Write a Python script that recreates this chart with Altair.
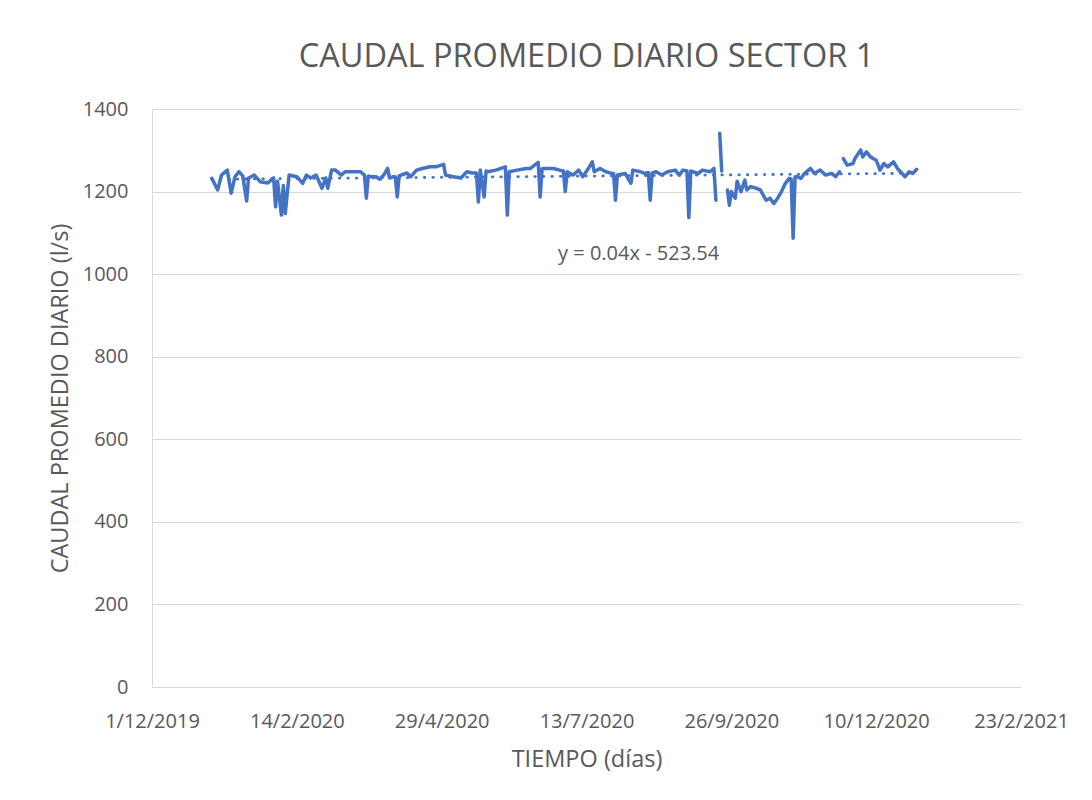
import altair as alt
import pandas as pd

# Día del año 2020 (1 = 1/1/2020) y caudal promedio diario (l/s); None = sin dato
dia = [1, 4, 6, 9, 11, 13, 15, 17, 19, 20, 23, 26, 30, 33, 34, 35, 37, 38, 39, 41,
       45, 48, 50, 52, 55, 58, 60, 61, 63, 65, 68, 70, 74, 78, 80, 81, 82, 83, 86, 88,
       90, 92, 93, 95, 96, 97, 98, 99, 102, 104, 107, 110, 114, 117, 121, 122, 126, 130, 133, 136,
       138, 139, 140, 142, 143, 144, 148, 153, 154, 155, 159, 164, 166, 170, 171, 172, 174, 178, 181, 183,
       184, 185, 188, 191, 193, 196, 198, 199, 202, 205, 208, 209, 210, 211, 215, 218, 219, 223, 225, 227,
       228, 229, 231, 234, 237, 241, 243, 245, 247, 248, 249, 250, 253, 255, 259, 261, 262, 263, 264, 265,
       266, 268, 269, 270, 272, 273, 275, 277, 278, 280, 283, 285, 288, 290, 292, 294, 296, 298, 300, 301,
       302, 303, 304, 306, 308, 311, 313, 316, 319, 322, 324, 326, 327, 328, 330, 333, 334, 337, 338, 340,
       342, 345, 347, 349, 351, 354, 356, 360, 362, 364, 366]
caudal = [1232, 1204, 1240, 1252, 1196, 1236, 1248, 1238, 1177, 1233, 1240, 1224, 1221, 1233, 1163, 1225, 1143, 1215, 1147, 1240,
          1236, 1220, 1240, 1233, 1240, 1208, 1233, 1208, 1252, 1252, 1240, 1248, 1248, 1248, 1240, 1184, 1238, 1236, 1236, 1230,
          1240, 1256, 1233, 1236, 1236, 1187, 1238, 1240, 1245, 1236, 1252, 1256, 1260, 1260, 1266, 1240, 1236, 1233, 1248, 1245,
          1245, 1175, 1252, 1187, 1250, 1248, 1252, 1260, 1143, 1248, 1252, 1256, 1256, 1271, 1187, 1255, 1256, 1256, 1252, 1250,
          1200, 1248, 1240, 1252, 1236, 1256, 1272, 1248, 1256, 1248, 1244, 1244, 1179, 1240, 1244, 1220, 1252, 1248, 1244, 1246,
          1179, 1245, 1248, 1240, 1248, 1252, 1240, 1252, 1250, 1137, 1250, 1248, 1244, 1252, 1248, 1256, 1179, None, 1341, 1250,
          None, 1204, 1167, 1200, 1184, 1225, 1200, 1228, 1204, 1212, 1208, 1204, 1179, 1184, 1171, 1184, 1200, 1220, 1232, 1230,
          1087, 1236, 1236, 1232, 1244, 1256, 1244, 1252, 1240, 1244, 1236, 1248, None, 1280, 1264, 1268, 1280, 1301, 1284, 1296,
          1284, 1276, 1252, 1268, 1260, 1272, 1256, 1236, 1248, 1244, 1254]

# Línea de tendencia (Excel): y = 0.04x - 523.54, x = número de serie de fecha
pendiente = 0.04
intercepto = -523.54
etiqueta_tendencia = "y = 0.04x - 523.54"

serie_inicio = 43830          # serie Excel de 31/12/2019
ticks_x = [43800, 43875, 43950, 44025, 44100, 44175, 44250]
ticks_y = [0, 200, 400, 600, 800, 1000, 1200, 1400]

df = pd.DataFrame({"dia": dia, "caudal": caudal})
df["serie"] = df["dia"] + serie_inicio
df["tramo"] = df["caudal"].isna().cumsum()
df = df.dropna()

x_ini, x_fin = df["serie"].min(), df["serie"].max()
df_t = pd.DataFrame({"serie": [x_ini, x_fin]})
df_t["tendencia"] = pendiente * df_t["serie"] + intercepto

FONT = "Open Sans"
GRIS = "#595959"
AZUL = "#4472C4"

x_enc = alt.X(
    "serie:Q",
    scale=alt.Scale(domain=[43800, 44250], nice=False, zero=False),
    axis=alt.Axis(
        values=ticks_x,
        labelExpr="utcFormat(utc(1899, 11, 30 + datum.value), '%-d/%-m/%Y')",
        title="TIEMPO (días)",
        grid=False, ticks=False, domain=True, domainColor="#d9d9d9", domainWidth=1,
        labelFont=FONT, labelFontSize=20, labelColor=GRIS, labelPadding=24,
        labelOverlap=False, labelFlush=False,
        titleFont=FONT, titleFontSize=23.5, titleFontWeight="normal", titleColor=GRIS,
        titlePadding=16,
    ),
)
y_scale = alt.Scale(domain=[0, 1400], nice=False)
y_axis = alt.Axis(
    values=ticks_y, format="d", title="CAUDAL PROMEDIO DIARIO (l/s)",
    grid=True, gridColor="#d9d9d9", gridWidth=1,
    ticks=False, domain=True, domainColor="#d9d9d9", domainWidth=1,
    labelFont=FONT, labelFontSize=20, labelColor=GRIS, labelPadding=24,
    titleFont=FONT, titleFontSize=23.5, titleFontWeight="normal", titleColor=GRIS,
    titlePadding=10,
)

linea = alt.Chart(df).mark_line(color=AZUL, strokeWidth=3.5, strokeJoin="round", strokeCap="round").encode(
    x=x_enc,
    y=alt.Y("caudal:Q", scale=y_scale, axis=y_axis),
    detail="tramo:N",
    order="serie:Q",
)

tendencia = alt.Chart(df_t).mark_line(
    color=AZUL, strokeWidth=2.8, strokeDash=[0.5, 8], strokeCap="round"
).encode(
    x="serie:Q",
    y="tendencia:Q",
)

texto = alt.Chart(pd.DataFrame({"t": [etiqueta_tendencia]})).mark_text(
    font=FONT, fontSize=20, color=GRIS, align="center", baseline="middle"
).encode(
    x=alt.datum(44052),
    y=alt.datum(1049),
    text="t:N",
)

chart = alt.layer(linea, tendencia, texto).properties(
    width=869,
    height=578,
    padding={"left": 144, "top": 101, "right": 63, "bottom": 105},
    autosize=alt.AutoSizeParams(type="none"),
    title=alt.TitleParams(
        "CAUDAL PROMEDIO DIARIO SECTOR 1", font=FONT, fontSize=32.5, fontWeight="normal",
        color=GRIS, anchor="middle", offset=26,
    ),
    background="white",
).configure_view(stroke=None)

chart.save("out.html", embed_options={"renderer": "svg", "actions": False})
